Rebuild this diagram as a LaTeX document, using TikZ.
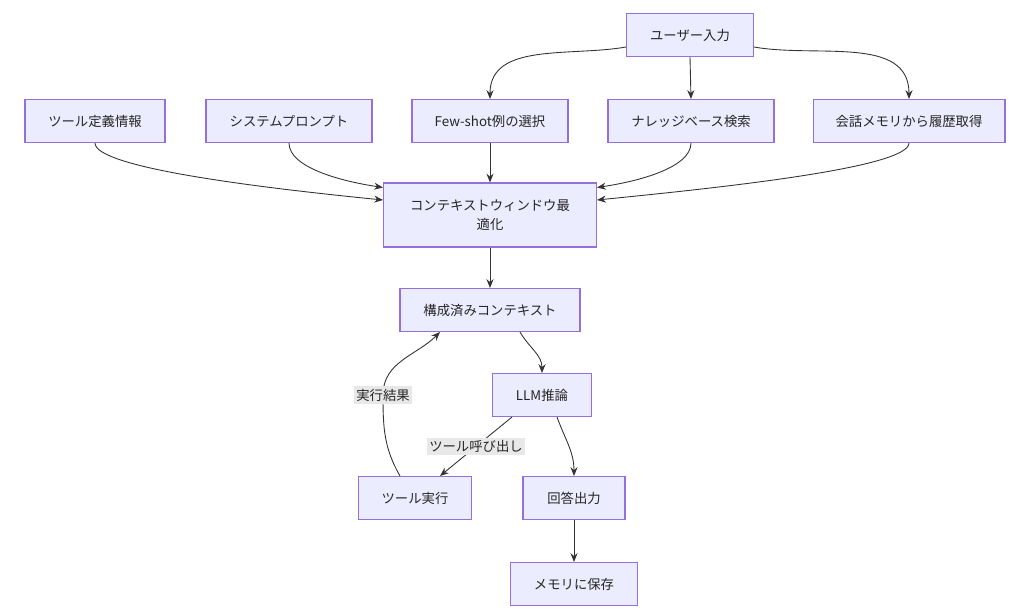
\documentclass[tikz,border=0pt]{standalone}
\usepackage{fontspec}
\setmainfont{Noto Sans CJK JP}
\usetikzlibrary{arrows.meta,positioning}
\definecolor{boxfill}{RGB}{236,236,255}
\definecolor{boxline}{RGB}{147,112,219}
\definecolor{pfeil}{RGB}{51,51,51}
\definecolor{lblfill}{RGB}{232,232,232}
\tikzset{
  box/.style={draw=boxline, fill=boxfill, line width=0.6pt, minimum height=0.86cm,
    align=center, font=\fontsize{7.6}{11}\selectfont, text=black!85},
  pfeilstil/.style={draw=pfeil, line width=0.5pt, -{Stealth[length=5pt,width=4pt]}},
  lbl/.style={fill=lblfill, font=\fontsize{7.6}{9}\selectfont, inner sep=1.5pt, text=black!85}
}
\begin{document}
\begin{tikzpicture}[x=0.02cm, y=-0.02cm]
    \useasboundingbox (0,0) rectangle (1024,614);

    % obere Reihe
    \node[box, minimum width=2.54cm] (user) at (690,35) {ユーザー入力};
    \node[box, minimum width=2.8cm] (tools) at (95,121) {ツール定義情報};
    \node[box, minimum width=3.32cm] (system) at (289,121) {システムプロンプト};
    \node[box, minimum width=3.12cm] (fewshot) at (490,121) {Few-shot例の選択};
    \node[box, minimum width=3.32cm] (rag) at (691,121) {ナレッジベース検索};
    \node[box, minimum width=3.84cm] (memory) at (909,121) {会話メモリから履歴取得};

    % Mitte
    \node[box, minimum width=4.26cm, minimum height=1.28cm] (window) at (490,215) {コンテキストウィンドウ最\\適化};
    \node[box, minimum width=3.6cm] (context) at (490,310) {構成済みコンテキスト};
    \node[box, minimum width=1.98cm] (llm) at (542,395) {LLM推論};
    \node[box, minimum width=2.26cm] (toolrun) at (415,498) {ツール実行};
    \node[box, minimum width=2.04cm] (answer) at (574,498) {回答出力};
    \node[box, minimum width=2.54cm] (save) at (574,584) {メモリに保存};

    \draw[pfeilstil] (user.south west) ++(0,-10) to[out=190, in=90] (fewshot.north);
    \draw[pfeilstil] (user.south) -- (rag.north);
    \draw[pfeilstil] (user.south east) ++(0,-10) to[out=-10, in=90] (memory.north);

    \draw[pfeilstil] (tools.south) .. controls +(0,25) and +(-120,-12) .. ([yshift=0.3cm]window.west);
    \draw[pfeilstil] (system.south) .. controls +(0,25) and +(-40,-6) .. ([yshift=0.55cm]window.west);
    \draw[pfeilstil] (fewshot) -- (window);
    \draw[pfeilstil] (rag.south) .. controls +(0,25) and +(40,-6) .. ([yshift=0.55cm]window.east);
    \draw[pfeilstil] (memory.south) .. controls +(0,25) and +(120,-12) .. ([yshift=0.3cm]window.east);

    \draw[pfeilstil] (window) -- (context);
    \draw[pfeilstil] ([xshift=0.6cm]context.south) to[out=-60, in=90] (llm.north);
    \draw[pfeilstil] ([xshift=-0.6cm]llm.south) -- node[lbl, pos=0.5] {ツール呼び出し} ([xshift=0.5cm]toolrun.north);
    \draw[pfeilstil] ([xshift=0.3cm]llm.south) to[out=-70, in=90] (answer.north);
    \draw[pfeilstil] ([xshift=-0.3cm]toolrun.north) to[out=120, in=-90] (383,395) node[lbl] {実行結果}
        to[out=90, in=-135] ([xshift=-1cm]context.south);
    \draw[pfeilstil] (answer) -- (save);
\end{tikzpicture}
\end{document}
